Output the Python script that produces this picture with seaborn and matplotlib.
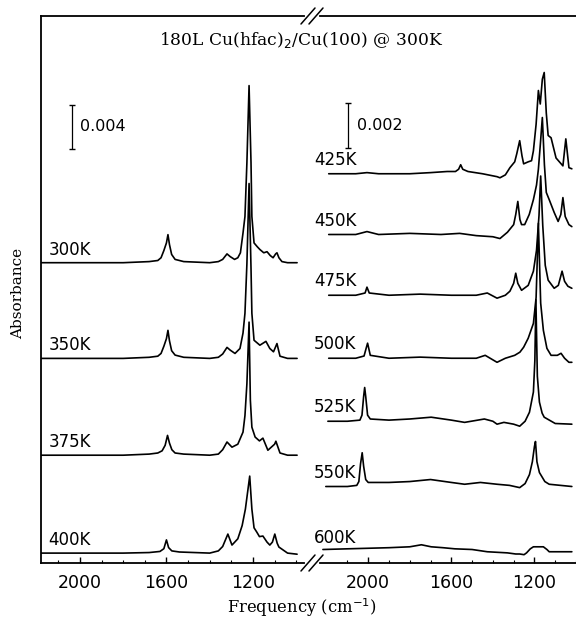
import numpy as np
import pandas as pd
import matplotlib
matplotlib.use("Agg")
import matplotlib.pyplot as plt
from matplotlib.lines import Line2D
import seaborn as sns

# ---------------- data (absorbance in units of 1e-3) ----------------
left_labels = ["300K", "350K", "375K", "400K"]
left_offsets = [27.3, 18.6, 9.8, 0.9]

f300 = [2180,1800,1680,1640,1625,1612,1600,1593,1586,1576,1560,1520,1400,1360,1340,1320,1305,1285,1270,1258,1246,1237,1228,1218,1209,1205,1195,1180,1168,1150,1135,1120,1107,1095,1089,1080,1066,1040,996]
a300 = [0,0,0.1,0.2,0.45,1.1,1.8,2.55,1.65,0.75,0.3,0.1,0,0.1,0.3,0.8,0.55,0.3,0.45,0.9,2.7,4.2,9.1,16.1,9.1,4.2,1.8,1.45,1.2,0.9,1.0,0.65,0.45,0.8,0.9,0.45,0.1,0,0]

f350 = [2180,1800,1680,1640,1625,1612,1600,1593,1586,1576,1560,1520,1400,1360,1340,1320,1305,1283,1260,1246,1237,1228,1218,1209,1205,1195,1168,1140,1122,1105,1089,1075,1040,996]
a350 = [0,0,0.1,0.2,0.45,1.1,1.8,2.55,1.6,0.7,0.3,0.1,0,0.1,0.4,1.0,0.75,0.45,0.9,2.3,4.1,8.6,15.9,8.2,4.1,1.65,1.2,1.55,0.9,0.6,1.35,0.2,0,0]

f375 = [2180,1800,1680,1640,1620,1606,1595,1586,1575,1560,1520,1400,1360,1340,1320,1297,1270,1246,1237,1228,1218,1212,1205,1190,1170,1154,1131,1100,1094,1075,1040,996]
a375 = [0,0,0.1,0.2,0.4,0.9,1.8,1.1,0.5,0.2,0.1,0,0.1,0.5,1.2,0.73,1.0,2.1,3.6,6.5,12.1,5.0,2.55,1.65,1.3,1.55,0.45,1.0,1.27,0.2,0,0]

f400 = [2180,1800,1680,1630,1612,1600,1590,1575,1540,1400,1360,1340,1316,1297,1270,1250,1235,1225,1215,1205,1195,1182,1170,1154,1135,1122,1110,1099,1088,1080,1040,996]
a400 = [0,0,0.05,0.15,0.4,1.2,0.5,0.2,0.1,0,0.2,0.6,1.73,0.73,1.3,2.5,4.0,5.5,7.0,4.0,2.3,1.9,1.5,1.55,1.0,0.73,1.0,1.73,0.9,0.55,0,-0.1]

right_labels = ["425K", "450K", "475K", "500K", "525K", "550K", "600K"]
right_offsets = [17.3, 14.6, 11.9, 9.1, 6.3, 3.4, 0.5]

f425 = [2190,2060,2006,1950,1800,1700,1620,1580,1565,1555,1545,1520,1450,1380,1366,1340,1318,1295,1285,1271,1260,1252,1230,1214,1205,1192,1181,1172,1162,1153,1143,1134,1120,1096,1063,1049,1034,1020]
a425 = [0,0,0.05,0,0,0.05,0.1,0.1,0.2,0.4,0.2,0.1,0,-0.13,-0.18,-0.05,0.27,0.53,0.89,1.47,0.8,0.44,0.53,0.58,1.02,2.2,3.7,3.1,4.2,4.5,2.7,1.7,1.6,0.7,0.35,1.55,0.27,0.22]

f450 = [2190,2060,2006,1950,1800,1650,1560,1480,1400,1366,1330,1300,1290,1280,1270,1262,1247,1225,1205,1190,1181,1170,1162,1152,1143,1129,1105,1086,1073,1063,1052,1034,1020]
a450 = [0,0,0.13,0,0.05,0,0.05,-0.05,-0.1,-0.18,0.1,0.44,0.89,1.47,0.67,0.44,0.44,0.89,1.55,2.2,2.9,4.2,5.2,3.1,1.87,1.55,0.98,0.58,0.89,1.64,0.8,0.44,0.35]

f475 = [2190,2060,2015,2006,1995,1900,1750,1600,1480,1427,1380,1340,1318,1300,1290,1280,1262,1230,1205,1190,1178,1170,1160,1148,1134,1105,1085,1067,1055,1039,1020]
a475 = [0,0,0.1,0.36,0.1,0,0.05,0,0,0.1,-0.13,0,0.18,0.53,0.98,0.53,0.22,0.44,1.07,2.0,3.55,5.3,3.1,1.33,0.67,0.31,0.44,1.07,0.62,0.4,0.31]

f500 = [2190,2060,2020,2010,2003,1990,1900,1750,1600,1480,1437,1380,1340,1295,1270,1252,1230,1205,1192,1181,1170,1157,1140,1120,1090,1072,1055,1034,1020]
a500 = [0,0,0.1,0.44,0.67,0.13,0,0.05,0,0,0.13,-0.18,0,0.13,0.27,0.49,0.89,1.55,2.7,6.0,2.45,1.24,0.44,0.13,0.13,0.22,0,-0.18,-0.18]

f525 = [2194,2100,2040,2030,2022,2017,2012,2003,1990,1900,1800,1697,1600,1536,1441,1400,1380,1347,1300,1271,1245,1224,1205,1198,1193,1186,1176,1163,1153,1100,1020]
a525 = [0,0,0.05,0.27,1.1,1.5,1.1,0.27,0.1,0.05,0.1,0.18,0.05,-0.05,0.1,0,-0.13,-0.05,-0.13,-0.22,0,0.4,1.3,2.7,5.4,2.0,0.85,0.36,0.18,-0.1,-0.13]

f550 = [2204,2100,2055,2045,2037,2029,2022,2012,2000,1900,1800,1700,1600,1536,1460,1380,1320,1271,1245,1224,1210,1200,1195,1188,1176,1150,1129,1020]
a550 = [0,0,0.05,0.22,1.0,1.5,0.9,0.31,0.18,0.18,0.22,0.31,0.18,0.1,0.18,0.1,0.05,-0.05,0.13,0.53,1.1,1.78,2.0,1.1,0.62,0.22,0.1,0]

f600 = [2218,2100,1900,1800,1744,1697,1640,1583,1500,1427,1330,1290,1271,1250,1238,1220,1205,1180,1157,1140,1129,1020]
a600 = [0.1,0.13,0.18,0.22,0.31,0.22,0.18,0.13,0.1,0,-0.05,-0.1,-0.1,-0.13,-0.05,0.13,0.22,0.22,0.22,0.1,0,0]

left_ticks = [2000, 1600, 1200]
right_ticks = [2000, 1600, 1200]
title_text = "180L Cu(hfac)$_2$/Cu(100) @ 300K"
xlabel_text = "Frequency (cm$^{-1}$)"
ylabel_text = "Absorbance"

# ---------------- build tables ----------------
def build(freqs, absb, labels, offsets):
    rows = []
    for f, a, lab, off in zip(freqs, absb, labels, offsets):
        for fi, ai in zip(f, a):
            rows.append((lab, fi, ai + off))
    return pd.DataFrame(rows, columns=["T", "freq", "y"])

df_left = build([f300, f350, f375, f400], [a300, a350, a375, a400], left_labels, left_offsets)
df_right = build([f425, f450, f475, f500, f525, f550, f600],
                 [a425, a450, a475, a500, a525, a550, a600], right_labels, right_offsets)

# ---------------- figure ----------------
sns.set_style("white")
plt.rcParams["font.family"] = ["DejaVu Sans"]
plt.rcParams["text.color"] = "black"
plt.rcParams["xtick.color"] = "black"
plt.rcParams["xtick.labelcolor"] = "black"
W, H = 576, 622
fig = plt.figure(figsize=(W / 100, H / 100), dpi=100)

def fx(px):
    return px / W

def fy(py):
    return 1 - py / H

top_px, bot_px = 16, 563
axL = fig.add_axes([fx(41), fy(bot_px), fx(304) - fx(41), fy(top_px) - fy(bot_px)])
axR = fig.add_axes([fx(320), fy(bot_px), 1.0 - fx(320), fy(top_px) - fy(bot_px)])

sns.lineplot(data=df_left, x="freq", y="y", hue="T", palette=["black"] * 4,
             sort=False, estimator=None, legend=False, lw=1.2, ax=axL)
sns.lineplot(data=df_right, x="freq", y="y", hue="T", palette=["black"] * 7,
             sort=False, estimator=None, legend=False, lw=1.2, ax=axR)

pxL = 4.0 / 44.0   # units per pixel, left
pxR = 2.0 / 45.0   # units per pixel, right
axL.set_xlim(2180, 964)
axR.set_xlim(2232, 1020)
axL.set_ylim(0, (bot_px - top_px) * pxL)
axR.set_ylim(0, (bot_px - top_px) * pxR)

for ax, ticks in ((axL, left_ticks), (axR, right_ticks)):
    ax.set_xticks(ticks)
    ax.set_xticklabels([str(t) for t in ticks])
    ax.set_xticks(np.arange(2100, 999, -100), minor=True)
    ax.set_yticks([])
    ax.set_xlabel("")
    ax.set_ylabel("")
    ax.tick_params(axis="x", which="major", direction="in", length=4, width=1,
                   labelsize=12.5, pad=8, bottom=True, top=False, colors="black")
    ax.tick_params(axis="x", which="minor", direction="in", length=2, width=0.8,
                   bottom=True, top=False, colors="black")
    for s in ax.spines.values():
        s.set_linewidth(1.3)
        s.set_color("black")
    ax.patch.set_alpha(0)

axL.spines["right"].set_visible(False)
axR.spines["left"].set_visible(False)
axR.spines["right"].set_visible(False)

# spectrum labels
for lab, off in zip(left_labels, left_offsets):
    axL.text(2145, off + 13 * pxL, lab, fontsize=12, va="center", ha="left", color="black")
for lab, off in zip(right_labels, right_offsets):
    axR.text(2260, off + 14 * pxR, lab, fontsize=12, va="center", ha="left",
             clip_on=False, color="black")

# scale bars
yb = (bot_px - 149) * pxL
axL.errorbar([2037], [yb + 2.0], yerr=[[2.0], [2.0]], fmt="none", ecolor="black",
             elinewidth=0.9, capsize=2)
axL.text(2000, yb + 2.0, "0.004", fontsize=11.5, va="center", ha="left", color="black")
yb2 = (bot_px - 148) * pxR
axR.errorbar([2095], [yb2 + 1.0], yerr=[[1.0], [1.0]], fmt="none", ecolor="black",
             elinewidth=0.9, capsize=2)
axR.text(2052, yb2 + 1.0, "0.002", fontsize=11.5, va="center", ha="left", color="black")

# axis break marks
for yc in (top_px, bot_px):
    for dx in (-4, 4):
        fig.add_artist(Line2D([fx(312 + dx - 7), fx(312 + dx + 7)],
                              [fy(yc + 8), fy(yc - 8)], color="black", lw=1.1))

serif = ["DejaVu Serif"]
fig.text(fx(301), fy(40), title_text, ha="center", va="center", fontsize=12.3,
         family=serif, color="black")
fig.text(fx(302), fy(608), xlabel_text, ha="center", va="center", fontsize=11.8,
         family=serif, color="black")
fig.text(fx(18), fy(293), ylabel_text, ha="center", va="center", rotation=90,
         fontsize=11, family=serif, color="black")

fig.savefig("out.png", dpi=100)
